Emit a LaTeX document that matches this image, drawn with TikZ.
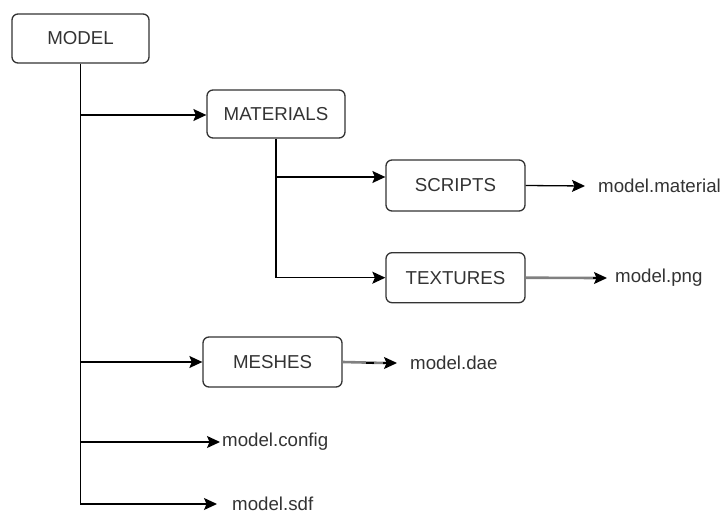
\documentclass[tikz,border=0pt]{standalone}
\usepackage{fontspec}
\setmainfont{Liberation Sans}
\usetikzlibrary{arrows.meta}
\definecolor{ink}{HTML}{333333}
\definecolor{pipe}{HTML}{808080}
\begin{document}
\begin{tikzpicture}[x=1pt,y=1pt,
  font=\fontsize{18.7}{22}\selectfont,
  folder/.style={draw=ink,line width=1.3pt,rounded corners=6pt,
    minimum width=138pt,minimum height=49pt,text=ink,inner sep=0pt},
  file/.style={text=ink,anchor=west,inner sep=0pt},
  link/.style={draw=black,line width=1.3pt,
    arrows={-Stealth[length=13pt,width=12pt,inset=2.5pt]}},
  glink/.style={draw=pipe,line width=2.6pt}]
\useasboundingbox (0,0) rectangle (724,-514);

% folders
\node[folder,minimum width=137pt] (model) at (80.5,-38.5) {MODEL};
\node[folder,minimum height=48pt] (materials) at (276,-114) {MATERIALS};
\node[folder,minimum width=139pt,minimum height=51pt] (scripts) at (455.5,-185.5) {SCRIPTS};
\node[folder,minimum width=139pt,minimum height=50pt] (textures) at (455.5,-277.7) {TEXTURES};
\node[folder,minimum width=139pt,minimum height=50pt] (meshes) at (272.5,-362) {MESHES};

% files
\node[file] (material) at (598,-186) {model.material};
\node[file] (png) at (615,-278) {model.png};
\node[file] (dae) at (410,-363) {model.dae};
\node[file] (config) at (222,-442) {model.config};
\node[file] (sdf) at (232,-504) {model.sdf};

% tree trunk and branches from MODEL
\draw[link] (model.south) |- ([xshift=-15pt]sdf.west);
\draw[link] (model.south |- 0,-115) -- (materials.west |- 0,-115);
\draw[link] (model.south |- meshes.west) -- (meshes.west);
\draw[link] (model.south |- config.west) -- ([xshift=-2pt]config.west);

% branches from MATERIALS
\draw[link] (materials.south) |- (textures.west);
\draw[link] (materials.south |- 0,-177) -- (scripts.west |- 0,-177);

% leaf files
\draw[link] (scripts.east) -- ([xshift=-13pt]material.west);
\draw[glink] (textures.east) -- ([xshift=-19pt]png.west);
\draw[link] ([xshift=-22pt]png.west) -- ([xshift=-8pt]png.west);
\draw[glink] (meshes.east) -- ([xshift=-25pt]dae.west);
\draw[draw=black,line width=2.6pt] ([xshift=-44pt]dae.west) -- ([xshift=-36pt]dae.west);
\draw[link] ([xshift=-27pt]dae.west) -- ([xshift=-13pt]dae.west);
\end{tikzpicture}
\end{document}
